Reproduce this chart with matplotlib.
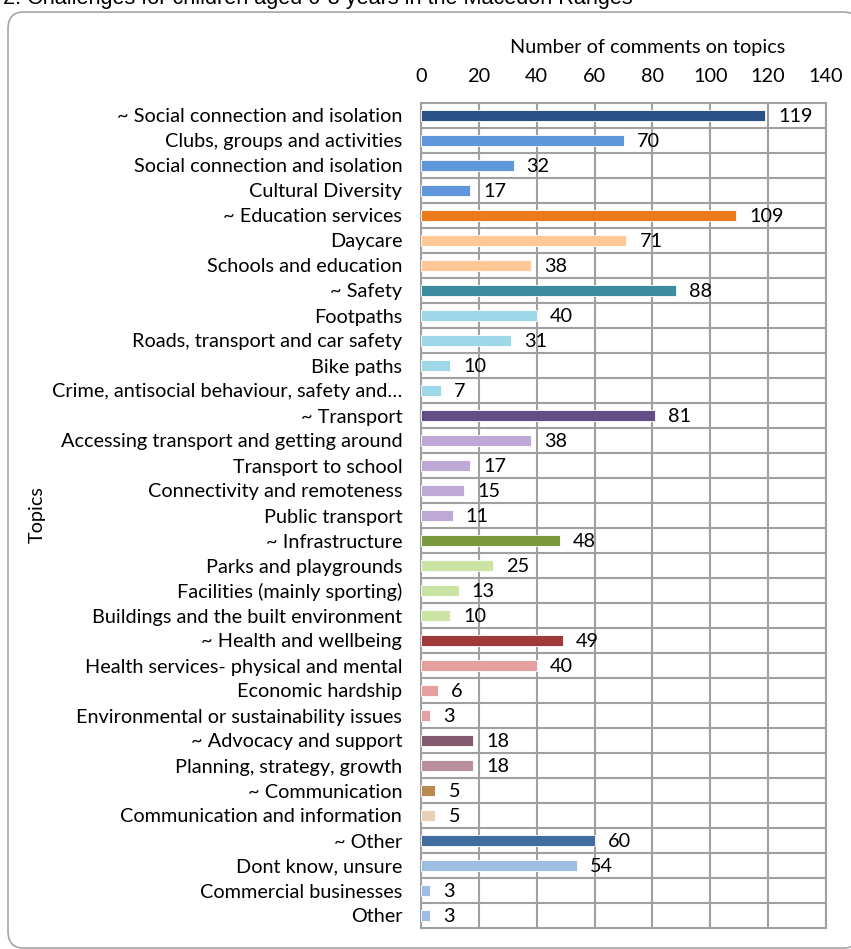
import matplotlib.pyplot as plt
from matplotlib.patches import FancyBboxPatch

plt.rcParams["font.family"] = ["Lato", "DejaVu Sans"]

topics = [
    "~ Social connection and isolation",
    "Clubs, groups and activities",
    "Social connection and isolation",
    "Cultural Diversity",
    "~ Education services",
    "Daycare",
    "Schools and education",
    "~ Safety",
    "Footpaths",
    "Roads, transport and car safety",
    "Bike paths",
    "Crime, antisocial behaviour, safety and\u2026",
    "~ Transport",
    "Accessing transport and getting around",
    "Transport to school",
    "Connectivity and remoteness",
    "Public transport",
    "~ Infrastructure",
    "Parks and playgrounds",
    "Facilities (mainly sporting)",
    "Buildings and the built environment",
    "~ Health and wellbeing",
    "Health services- physical and mental",
    "Economic hardship",
    "Environmental or sustainability issues",
    "~ Advocacy and support",
    "Planning, strategy, growth",
    "~ Communication",
    "Communication and information",
    "~ Other",
    "Dont know, unsure",
    "Commercial businesses",
    "Other",
]
comments = [119, 70, 32, 17, 109, 71, 38, 88, 40, 31, 10, 7, 81, 38, 17, 15, 11,
            48, 25, 13, 10, 49, 40, 6, 3, 18, 18, 5, 5, 60, 54, 3, 3]

# colour per group: headline topic first, sub-topics after
group_sizes = [4, 3, 5, 5, 4, 4, 2, 2, 4]
group_colors = [
    ("#2B5189", "#6096DC"),
    ("#EE7A1E", "#FFC896"),
    ("#3A8C9E", "#9ED8E8"),
    ("#634D87", "#BDA8D6"),
    ("#7B9A3E", "#CBE3A3"),
    ("#A03A3A", "#E6A0A0"),
    ("#835A6E", "#BA909F"),
    ("#B88A52", "#E9CFB3"),
    ("#416C9E", "#9EBDE3"),
]
colors = []
for n, (main, sub) in zip(group_sizes, group_colors):
    colors += [main] + [sub] * (n - 1)

FS = 14.3

fig = plt.figure(figsize=(8.51, 9.49), dpi=100)

# rounded frame around the chart
frame = FancyBboxPatch((8 / 851, 0.001), 1.0, 1 - 13 / 949,
                       boxstyle="round,pad=0,rounding_size=0.018",
                       transform=fig.transFigure, facecolor="white",
                       edgecolor="#A6A6A6", lw=1.2, clip_on=False, zorder=-5)
fig.patches.append(frame)
fig.text(0.004, 1.013, "2. Challenges for children aged 0-8 years in the Macedon Ranges",
         fontsize=15.6, family=["Liberation Sans"], va="top", ha="left")

ax = fig.add_axes([421 / 851, 1 - 928 / 949, 405 / 851, 825 / 949])
ax.set_facecolor("none")
y = list(range(len(topics)))
ax.barh(y, comments, height=0.42, color=colors, edgecolor="white", lw=0.6, zorder=3)
for yi, v in zip(y, comments):
    ax.text(v + 4.5, yi + 0.05, str(v), va="center", ha="left", fontsize=FS, zorder=4)

ax.set_xlim(0, 140)
ax.set_ylim(len(topics) - 0.5, -0.5)
ax.set_xticks(range(0, 141, 20))
ax.set_yticks(y)
ax.set_yticklabels(topics, fontsize=FS)
ax.set_yticks([i + 0.5 for i in y[:-1]], minor=True)
ax.xaxis.tick_top()
ax.xaxis.set_label_position("top")
ax.tick_params(axis="x", labelsize=FS, length=0, pad=13)
ax.tick_params(axis="y", which="both", length=0, pad=13.5)
ax.grid(True, axis="x", color="#A0A0A0", lw=1.5, zorder=1)
ax.grid(True, axis="y", which="minor", color="#A0A0A0", lw=1.5, zorder=1)
for s in ax.spines.values():
    s.set_color("#A0A0A0")
    s.set_linewidth(1.5)

ax.set_xlabel("Number of comments on topics", fontsize=FS)
ax.xaxis.set_label_coords(0.56, 1.061)
fig.text(37 / 851, 1 - 515 / 949, "Topics", rotation=90, fontsize=FS,
         ha="center", va="center")

fig.savefig("out.png", dpi=100)
